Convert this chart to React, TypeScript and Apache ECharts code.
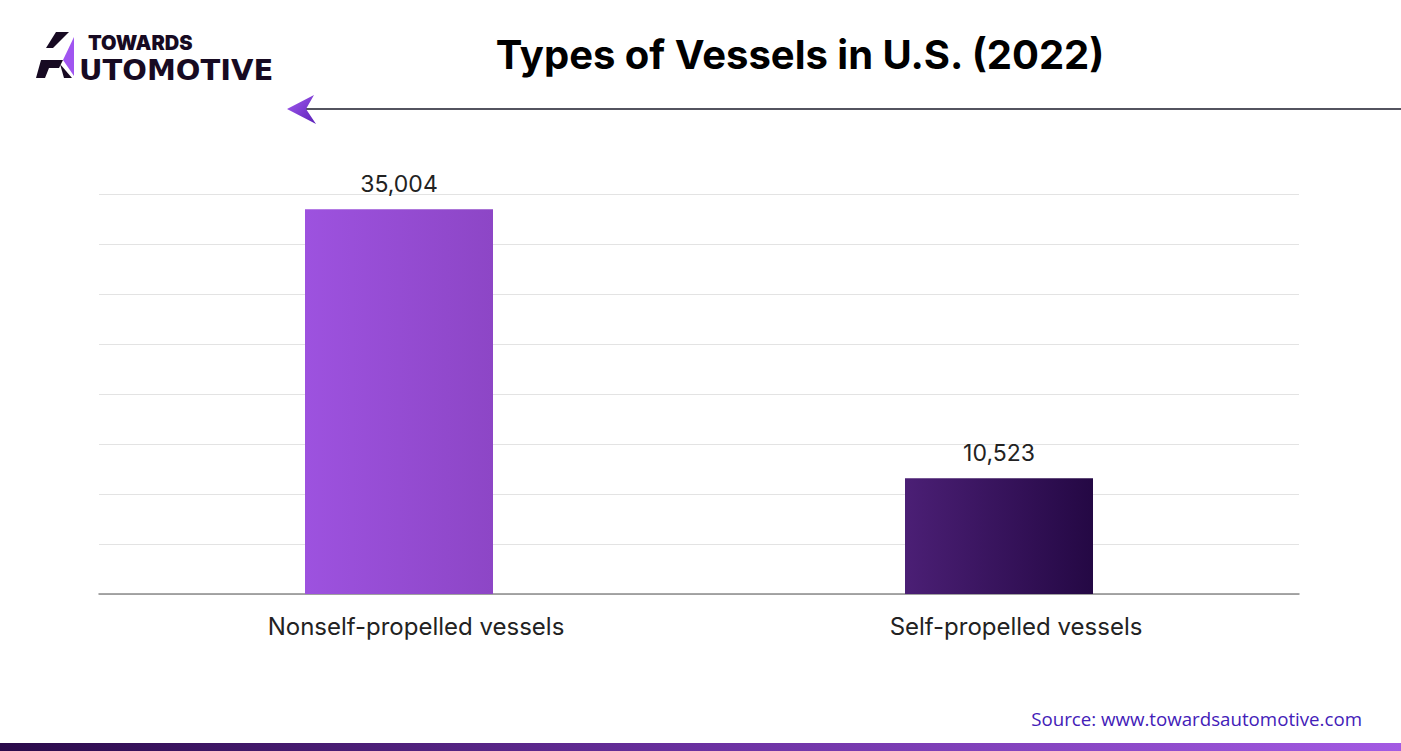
import React, { useEffect, useRef } from "react";
import * as echarts from "echarts";

const categories = ["Nonself-propelled vessels", "Self-propelled vessels"];
const values = [35004, 10523];
const valueLabels = ["35,004", "10,523"];
const title = "Types of Vessels in U.S. (2022)";
const source = "Source: www.towardsautomotive.com";

export default function App() {
  const ref = useRef<HTMLDivElement>(null);
  useEffect(() => {
    if (!ref.current) return;
    const chart = echarts.init(ref.current, null, { renderer: "svg" });
    const barColors = [
      new echarts.graphic.LinearGradient(0, 0, 1, 0, [
        { offset: 0, color: "#9d52df" },
        { offset: 1, color: "#8d46c6" },
      ]),
      new echarts.graphic.LinearGradient(0, 0, 1, 0, [
        { offset: 0, color: "#4b1f75" },
        { offset: 1, color: "#240844" },
      ]),
    ];
    chart.setOption({
      animation: false,
      backgroundColor: "#ffffff",
      grid: { left: 99, right: 102, top: 194, bottom: 157, containLabel: false },
      xAxis: {
        type: "category",
        data: categories,
        axisTick: { show: false },
        axisLine: { lineStyle: { color: "#8a8a8a", width: 1.5 } },
        axisLabel: {
          color: "#222222",
          fontSize: 24,
          fontFamily: "Inter",
          margin: 20,
          padding: [0, 0, 0, 34],
        },
      },
      yAxis: {
        type: "value",
        min: 0,
        max: 36400,
        interval: 4550,
        axisLabel: { show: false },
        axisLine: { show: false },
        axisTick: { show: false },
        splitLine: { lineStyle: { color: "#e3e3e3", width: 1 } },
      },
      series: [
        {
          type: "bar",
          barWidth: 188,
          data: values.map((v, i) => ({
            value: v,
            itemStyle: { color: barColors[i] },
            label: { formatter: valueLabels[i] },
          })),
          label: {
            show: true,
            position: "top",
            distance: 14,
            color: "#222222",
            fontSize: 23,
            fontFamily: "Inter",
          },
        },
      ],
      graphic: [
        {
          type: "text",
          x: 800,
          y: 54,
          style: {
            text: title,
            font: "bold 40px Inter",
            fill: "#000000",
            textAlign: "center",
            textVerticalAlign: "middle",
          },
        },
        {
          type: "line",
          shape: { x1: 305, y1: 109, x2: 1401, y2: 109 },
          style: { stroke: "#1a1a2a", lineWidth: 1.5 },
        },
        {
          type: "polygon",
          shape: { points: [[287, 109], [314, 95], [306, 109], [316, 124]] },
          style: {
            fill: new echarts.graphic.LinearGradient(0, 0, 1, 1, [
              { offset: 0, color: "#a45cf0" },
              { offset: 1, color: "#5a20b8" },
            ]),
          },
        },
        // logo icon
        {
          type: "polygon",
          shape: { points: [[56, 32], [69, 32], [53, 48], [46, 48]] },
          style: { fill: "#170a22" },
        },
        {
          type: "polygon",
          shape: { points: [[41, 60], [63, 60], [59, 68], [49, 68], [45, 78], [36, 78]] },
          style: { fill: "#170a22" },
        },
        {
          type: "polygon",
          shape: { points: [[74, 37], [74, 76], [63, 60]] },
          style: { fill: "#a055f0" },
        },
        {
          type: "polygon",
          shape: { points: [[60, 64], [72, 78], [64, 78]] },
          style: { fill: "#170a22" },
        },
        {
          type: "text",
          x: 88,
          y: 33,
          style: { text: "TOWARDS", font: "900 20px Inter", fill: "#170a22" },
        },
        {
          type: "text",
          x: 79,
          y: 55,
          style: { text: "UTOMOTIVE", font: "bold 29px 'DejaVu Sans'", fill: "#170a22" },
        },
        {
          type: "text",
          x: 1362,
          y: 718,
          style: {
            text: source,
            font: "18.7px 'Open Sans'",
            fill: "#4320b8",
            textAlign: "right",
            textVerticalAlign: "middle",
          },
        },
        {
          type: "rect",
          shape: { x: 0, y: 743, width: 1401, height: 8 },
          style: {
            fill: new echarts.graphic.LinearGradient(0, 0, 1, 0, [
              { offset: 0, color: "#2a0a4a" },
              { offset: 0.5, color: "#6a30a0" },
              { offset: 1, color: "#a35ae3" },
            ]),
          },
        },
      ],
    });
    return () => chart.dispose();
  }, []);
  return (
    <div
      ref={ref}
      style={{ position: "fixed", left: 0, top: 0, width: 1401, height: 751 }}
    />
  );
}
